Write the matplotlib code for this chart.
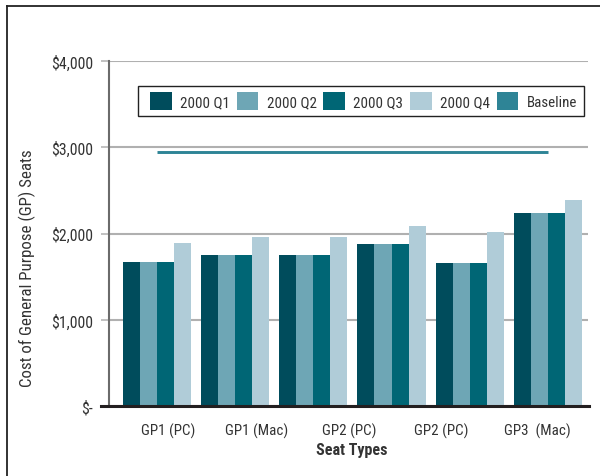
import matplotlib
matplotlib.use("Agg")
import matplotlib.pyplot as plt
from matplotlib.patches import Patch, Rectangle
from matplotlib.lines import Line2D
from matplotlib import font_manager
import numpy as np

names = {f.name for f in font_manager.fontManager.ttflist}
fam = 'Roboto'
for cand in ['Liberation Sans Narrow', 'Roboto Condensed', 'Arial Narrow', 'Roboto']:
    if cand in names:
        fam = cand
        break
plt.rcParams['font.family'] = [fam, 'DejaVu Sans']

# ---- data ----
groups = ["G1", "G2", "G3", "G4", "G5", "G6"]
q1 = [1670, 1750, 1750, 1880, 1660, 2240]
q2 = [1670, 1750, 1750, 1880, 1660, 2240]
q3 = [1670, 1750, 1750, 1880, 1660, 2240]
q4 = [1890, 1960, 1960, 2090, 2020, 2390]
baseline = [2950, 2950, 2950, 2950, 2950, 2950]
series_names = ["2000 Q1", "2000 Q2", "2000 Q3", "2000 Q4"]
baseline_name = "Baseline"
xtick_labels = ["GP1 (PC)", "GP1 (Mac)", "GP2 (PC)", "GP2 (PC)", "GP3  (Mac)"]
xtick_pos = [0.15, 1.28, 2.46, 3.64, 4.86]
yticks = [0, 1000, 2000, 3000, 4000]
ytick_labels = ["$-", "$1,000", "$2,000", "$3,000", "$4,000"]

colors = ["#004c5c", "#6ea6b5", "#006675", "#b0ccd8"]
base_color = "#2e8496"
text_color = "#333333"

fig = plt.figure(figsize=(6.0, 4.77), dpi=100)
W, H = 600, 477
AW, AH = 588 - 109, 407 - 62
ax = fig.add_axes([109 / W, 1 - 407 / H, AW / W, AH / H])

x = np.arange(len(groups))
bw = 0.218
for i, (vals, c) in enumerate(zip([q1, q2, q3, q4], colors)):
    ax.bar(x + (i - 1.5) * bw, vals, width=bw, color=c, linewidth=0, zorder=3)

ax.plot(x, baseline, color=base_color, linewidth=2.1, zorder=4, solid_capstyle='butt')

ax.set_xlim(-0.61, 5.51)
ax.set_ylim(0, 4000)
ax.set_yticks(yticks)
ax.set_yticklabels(ytick_labels)
ax.set_xticks(xtick_pos)
ax.set_xticklabels(xtick_labels)

ax.yaxis.grid(True, color="#b0b0b0", linewidth=1.5, zorder=0)
ax.set_axisbelow(True)
ax.tick_params(axis='y', length=5.8, width=1.1, color="#b0b0b0", pad=5.5,
               labelsize=11.3, labelcolor=text_color)
ax.tick_params(axis='x', length=0, pad=12, labelsize=10.8, labelcolor=text_color)

for s in ['top', 'right']:
    ax.spines[s].set_visible(False)
ax.spines['left'].set_color("#6b6b6b")
ax.spines['left'].set_linewidth(1.5)
ax.spines['bottom'].set_visible(False)
ax.add_line(Line2D([-8 / AW, 1.002], [0, 0], transform=ax.transAxes, color="#231f20",
                   linewidth=2.2, clip_on=False, zorder=5))

ax.set_xlabel("Seat Types", fontsize=11.5, fontweight='bold', color=text_color)
ax.xaxis.set_label_coords(0.507, -0.105)
ax.set_ylabel("Cost of General Purpose (GP) Seats", fontsize=12.2, color=text_color)
ax.yaxis.set_label_coords(-0.153, 0.403)

handles = [Patch(facecolor=c, edgecolor='none') for c in colors] + [Patch(facecolor=base_color, edgecolor='none')]
labels = series_names + [baseline_name]
leg = ax.legend(handles, labels, ncol=5, loc='center left',
                bbox_to_anchor=((150 - 109) / AW, (407 - 102) / AH - 0.02, (577 - 150) / AW, 0.04),
                mode='expand', frameon=False, fontsize=10.8,
                handlelength=1.45, handleheight=1.45, handletextpad=0.55, columnspacing=0.5,
                borderpad=0, borderaxespad=0)
for t in leg.get_texts():
    t.set_color(text_color)
leg.set_zorder(6)
ax.add_patch(Rectangle(((138 - 109) / AW, (407 - 117) / AH), (584 - 138) / AW, 30 / AH,
                       transform=ax.transAxes, facecolor='white', edgecolor="#222222",
                       linewidth=1.0, zorder=5.5))

# figure border (top & left)
fig.add_artist(Line2D([7 / W, 7 / W], [0, 1 - 7 / H], transform=fig.transFigure,
                      color="#222222", linewidth=1.3))
fig.add_artist(Line2D([7 / W, 1], [1 - 7 / H, 1 - 7 / H], transform=fig.transFigure,
                      color="#222222", linewidth=1.3))

fig.savefig("out.png", dpi=100)
